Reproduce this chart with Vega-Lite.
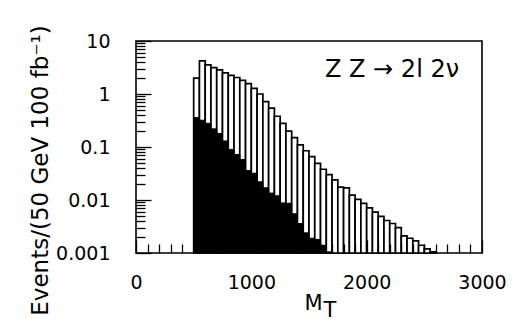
{
  "$schema": "https://vega.github.io/schema/vega-lite/v6.json",
  "width": 346,
  "height": 212,
  "autosize": {"type": "none"},
  "padding": {"left": 136, "top": 41, "right": 32, "bottom": 69},
  "background": "white",
  "config": {
    "view": {"stroke": "black", "strokeWidth": 1.6},
    "font": "DejaVu Sans",
    "axis": {"ticks": true, "grid": false, "domain": false, "labelOverlap": false, "labelSeparation": -200}
  },
  "data": {
    "values": [
      {"lo": 500, "hi": 550, "total": 2.0, "zz": 0.36},
      {"lo": 550, "hi": 600, "total": 4.2, "zz": 0.32},
      {"lo": 600, "hi": 650, "total": 3.55, "zz": 0.28},
      {"lo": 650, "hi": 700, "total": 3.15, "zz": 0.22},
      {"lo": 700, "hi": 750, "total": 2.85, "zz": 0.18},
      {"lo": 750, "hi": 800, "total": 2.5, "zz": 0.13},
      {"lo": 800, "hi": 850, "total": 2.25, "zz": 0.09},
      {"lo": 850, "hi": 900, "total": 2.05, "zz": 0.072},
      {"lo": 900, "hi": 950, "total": 1.8, "zz": 0.058},
      {"lo": 950, "hi": 1000, "total": 1.57, "zz": 0.036},
      {"lo": 1000, "hi": 1050, "total": 1.28, "zz": 0.032},
      {"lo": 1050, "hi": 1100, "total": 1.0, "zz": 0.022},
      {"lo": 1100, "hi": 1150, "total": 0.72, "zz": 0.017},
      {"lo": 1150, "hi": 1200, "total": 0.54, "zz": 0.0135},
      {"lo": 1200, "hi": 1250, "total": 0.38, "zz": 0.012},
      {"lo": 1250, "hi": 1300, "total": 0.28, "zz": 0.0088},
      {"lo": 1300, "hi": 1350, "total": 0.2, "zz": 0.0087},
      {"lo": 1350, "hi": 1400, "total": 0.15, "zz": 0.0055},
      {"lo": 1400, "hi": 1450, "total": 0.11, "zz": 0.0036},
      {"lo": 1450, "hi": 1500, "total": 0.085, "zz": 0.0024},
      {"lo": 1500, "hi": 1550, "total": 0.066, "zz": 0.0019},
      {"lo": 1550, "hi": 1600, "total": 0.049, "zz": 0.0018},
      {"lo": 1600, "hi": 1650, "total": 0.038, "zz": 0.0014},
      {"lo": 1650, "hi": 1700, "total": 0.03, "zz": 0.00105},
      {"lo": 1700, "hi": 1750, "total": 0.024, "zz": null},
      {"lo": 1750, "hi": 1800, "total": 0.0175, "zz": null},
      {"lo": 1800, "hi": 1850, "total": 0.017, "zz": null},
      {"lo": 1850, "hi": 1900, "total": 0.0124, "zz": null},
      {"lo": 1900, "hi": 1950, "total": 0.0103, "zz": null},
      {"lo": 1950, "hi": 2000, "total": 0.0086, "zz": null},
      {"lo": 2000, "hi": 2050, "total": 0.0071, "zz": null},
      {"lo": 2050, "hi": 2100, "total": 0.0059, "zz": null},
      {"lo": 2100, "hi": 2150, "total": 0.0049, "zz": null},
      {"lo": 2150, "hi": 2200, "total": 0.0041, "zz": null},
      {"lo": 2200, "hi": 2250, "total": 0.0036, "zz": null},
      {"lo": 2250, "hi": 2300, "total": 0.003, "zz": null},
      {"lo": 2300, "hi": 2350, "total": 0.0021, "zz": null},
      {"lo": 2350, "hi": 2400, "total": 0.0019, "zz": null},
      {"lo": 2400, "hi": 2450, "total": 0.0017, "zz": null},
      {"lo": 2450, "hi": 2500, "total": 0.0014, "zz": null},
      {"lo": 2500, "hi": 2550, "total": 0.0012, "zz": null},
      {"lo": 2550, "hi": 2600, "total": 0.00105, "zz": null}
    ]
  },
  "layer": [
    {
      "mark": {"type": "bar", "fill": "white", "stroke": "black", "strokeWidth": 1.7},
      "encoding": {
        "x": {
          "field": "lo", "type": "quantitative",
          "scale": {"domain": [0, 3000], "nice": false, "zero": false},
          "axis": {"values": [0, 100, 200, 300, 400, 500, 600, 700, 800, 900, 1000, 1100, 1200, 1300, 1400, 1500, 1600, 1700, 1800, 1900, 2000, 2100, 2200, 2300, 2400, 2500, 2600, 2700, 2800, 2900, 3000], "labelExpr": "datum.value % 1000 == 0 ? format(datum.value, 'd') : ''", "ticks": true, "tickSize": {"condition": {"test": "datum.value % 1000 == 0", "value": -13}, "value": -9}, "tickColor": "black", "tickWidth": 1.3, "domain": false, "grid": false, "labelFontSize": 19, "labelColor": "black", "labelPadding": 33, "labelFlush": false, "labelBound": false, "labelOverlap": false, "title": "M", "titleFontSize": 21, "titleFontWeight": "normal", "titleColor": "black", "titlePadding": -4, "titleX": 177, "zindex": 1}
        },
        "x2": {"field": "hi"},
        "y": {
          "field": "total", "type": "quantitative",
          "scale": {"type": "log", "domain": [0.001, 10], "nice": false},
          "axis": {"values": [0.001, 0.002, 0.003, 0.004, 0.005, 0.006, 0.007, 0.008, 0.009, 0.01, 0.02, 0.03, 0.04, 0.05, 0.06, 0.07, 0.08, 0.09, 0.1, 0.2, 0.3, 0.4, 0.5, 0.6, 0.7, 0.8, 0.9, 1, 2, 3, 4, 5, 6, 7, 8, 9, 10], "labelExpr": "indexof([0.001, 0.01, 0.1, 1, 10], datum.value) >= 0 ? format(datum.value, '~g') : ''", "ticks": true, "tickSize": {"condition": {"test": "indexof([0.001, 0.01, 0.1, 1, 10], datum.value) >= 0", "value": -15}, "value": -9}, "tickColor": "black", "tickWidth": 1.3, "domain": false, "grid": false, "labelFontSize": 19, "labelColor": "black", "labelPadding": 41, "labelOverlap": false, "labelBound": false, "labelFlush": false, "title": "Events/(50 GeV 100 fb⁻¹)", "titleFontSize": 23, "titleFontWeight": "normal", "titleColor": "black", "titlePadding": 3, "titleY": 129, "zindex": 1}
        },
        "y2": {"datum": 0.001}
      }
    },
    {
      "transform": [{"filter": "isValid(datum.zz)"}],
      "mark": {"type": "bar", "fill": "black", "stroke": "black", "strokeWidth": 1},
      "encoding": {
        "x": {
          "field": "lo", "type": "quantitative",
          "axis": {"values": [0, 100, 200, 300, 400, 500, 600, 700, 800, 900, 1000, 1100, 1200, 1300, 1400, 1500, 1600, 1700, 1800, 1900, 2000, 2100, 2200, 2300, 2400, 2500, 2600, 2700, 2800, 2900, 3000], "labelExpr": "datum.value % 1000 == 0 ? format(datum.value, 'd') : ''", "ticks": true, "tickSize": {"condition": {"test": "datum.value % 1000 == 0", "value": -13}, "value": -9}, "tickColor": "black", "tickWidth": 1.3, "domain": false, "grid": false, "labelFontSize": 19, "labelColor": "black", "labelPadding": 33, "labelFlush": false, "labelBound": false, "labelOverlap": false, "title": "M", "titleFontSize": 21, "titleFontWeight": "normal", "titleColor": "black", "titlePadding": -4, "titleX": 177, "zindex": 1}
        },
        "x2": {"field": "hi"},
        "y": {
          "field": "zz", "type": "quantitative",
          "axis": {"values": [0.001, 0.002, 0.003, 0.004, 0.005, 0.006, 0.007, 0.008, 0.009, 0.01, 0.02, 0.03, 0.04, 0.05, 0.06, 0.07, 0.08, 0.09, 0.1, 0.2, 0.3, 0.4, 0.5, 0.6, 0.7, 0.8, 0.9, 1, 2, 3, 4, 5, 6, 7, 8, 9, 10], "labelExpr": "indexof([0.001, 0.01, 0.1, 1, 10], datum.value) >= 0 ? format(datum.value, '~g') : ''", "ticks": true, "tickSize": {"condition": {"test": "indexof([0.001, 0.01, 0.1, 1, 10], datum.value) >= 0", "value": -15}, "value": -9}, "tickColor": "black", "tickWidth": 1.3, "domain": false, "grid": false, "labelFontSize": 19, "labelColor": "black", "labelPadding": 41, "labelOverlap": false, "labelBound": false, "labelFlush": false, "title": "Events/(50 GeV 100 fb⁻¹)", "titleFontSize": 23, "titleFontWeight": "normal", "titleColor": "black", "titlePadding": 3, "titleY": 129, "zindex": 1}
        },
        "y2": {"datum": 0.001}
      }
    },
    {
      "data": {"values": [{"label": "Z Z → 2l 2ν"}]},
      "mark": {"type": "text", "fontSize": 24, "font": "DejaVu Sans", "color": "black", "align": "center", "baseline": "middle"},
      "encoding": {
        "x": {"datum": 2220, "type": "quantitative",
          "axis": {"values": [0, 100, 200, 300, 400, 500, 600, 700, 800, 900, 1000, 1100, 1200, 1300, 1400, 1500, 1600, 1700, 1800, 1900, 2000, 2100, 2200, 2300, 2400, 2500, 2600, 2700, 2800, 2900, 3000], "labelExpr": "datum.value % 1000 == 0 ? format(datum.value, 'd') : ''", "ticks": true, "tickSize": {"condition": {"test": "datum.value % 1000 == 0", "value": -13}, "value": -9}, "tickColor": "black", "tickWidth": 1.3, "domain": false, "grid": false, "labelFontSize": 19, "labelColor": "black", "labelPadding": 33, "labelFlush": false, "labelBound": false, "labelOverlap": false, "title": "M", "titleFontSize": 21, "titleFontWeight": "normal", "titleColor": "black", "titlePadding": -4, "titleX": 177, "zindex": 1}},
        "y": {"datum": 2.84, "type": "quantitative",
          "axis": {"values": [0.001, 0.002, 0.003, 0.004, 0.005, 0.006, 0.007, 0.008, 0.009, 0.01, 0.02, 0.03, 0.04, 0.05, 0.06, 0.07, 0.08, 0.09, 0.1, 0.2, 0.3, 0.4, 0.5, 0.6, 0.7, 0.8, 0.9, 1, 2, 3, 4, 5, 6, 7, 8, 9, 10], "labelExpr": "indexof([0.001, 0.01, 0.1, 1, 10], datum.value) >= 0 ? format(datum.value, '~g') : ''", "ticks": true, "tickSize": {"condition": {"test": "indexof([0.001, 0.01, 0.1, 1, 10], datum.value) >= 0", "value": -15}, "value": -9}, "tickColor": "black", "tickWidth": 1.3, "domain": false, "grid": false, "labelFontSize": 19, "labelColor": "black", "labelPadding": 41, "labelOverlap": false, "labelBound": false, "labelFlush": false, "title": "Events/(50 GeV 100 fb⁻¹)", "titleFontSize": 23, "titleFontWeight": "normal", "titleColor": "black", "titlePadding": 3, "titleY": 129, "zindex": 1}},
        "text": {"field": "label"}
      }
    },
    {
      "data": {"values": [{"label": "T"}]},
      "mark": {"type": "text", "fontSize": 21, "font": "DejaVu Sans", "color": "black", "align": "center", "baseline": "middle"},
      "encoding": {
        "x": {"datum": 1682, "type": "quantitative",
          "axis": {"values": [0, 100, 200, 300, 400, 500, 600, 700, 800, 900, 1000, 1100, 1200, 1300, 1400, 1500, 1600, 1700, 1800, 1900, 2000, 2100, 2200, 2300, 2400, 2500, 2600, 2700, 2800, 2900, 3000], "labelExpr": "datum.value % 1000 == 0 ? format(datum.value, 'd') : ''", "ticks": true, "tickSize": {"condition": {"test": "datum.value % 1000 == 0", "value": -13}, "value": -9}, "tickColor": "black", "tickWidth": 1.3, "domain": false, "grid": false, "labelFontSize": 19, "labelColor": "black", "labelPadding": 33, "labelFlush": false, "labelBound": false, "labelOverlap": false, "title": "M", "titleFontSize": 21, "titleFontWeight": "normal", "titleColor": "black", "titlePadding": -4, "titleX": 177, "zindex": 1}},
        "y": {"datum": 0.00008, "type": "quantitative",
          "axis": {"values": [0.001, 0.002, 0.003, 0.004, 0.005, 0.006, 0.007, 0.008, 0.009, 0.01, 0.02, 0.03, 0.04, 0.05, 0.06, 0.07, 0.08, 0.09, 0.1, 0.2, 0.3, 0.4, 0.5, 0.6, 0.7, 0.8, 0.9, 1, 2, 3, 4, 5, 6, 7, 8, 9, 10], "labelExpr": "indexof([0.001, 0.01, 0.1, 1, 10], datum.value) >= 0 ? format(datum.value, '~g') : ''", "ticks": true, "tickSize": {"condition": {"test": "indexof([0.001, 0.01, 0.1, 1, 10], datum.value) >= 0", "value": -15}, "value": -9}, "tickColor": "black", "tickWidth": 1.3, "domain": false, "grid": false, "labelFontSize": 19, "labelColor": "black", "labelPadding": 41, "labelOverlap": false, "labelBound": false, "labelFlush": false, "title": "Events/(50 GeV 100 fb⁻¹)", "titleFontSize": 23, "titleFontWeight": "normal", "titleColor": "black", "titlePadding": 3, "titleY": 129, "zindex": 1}},
        "text": {"field": "label"}
      }
    }
  ]
}
